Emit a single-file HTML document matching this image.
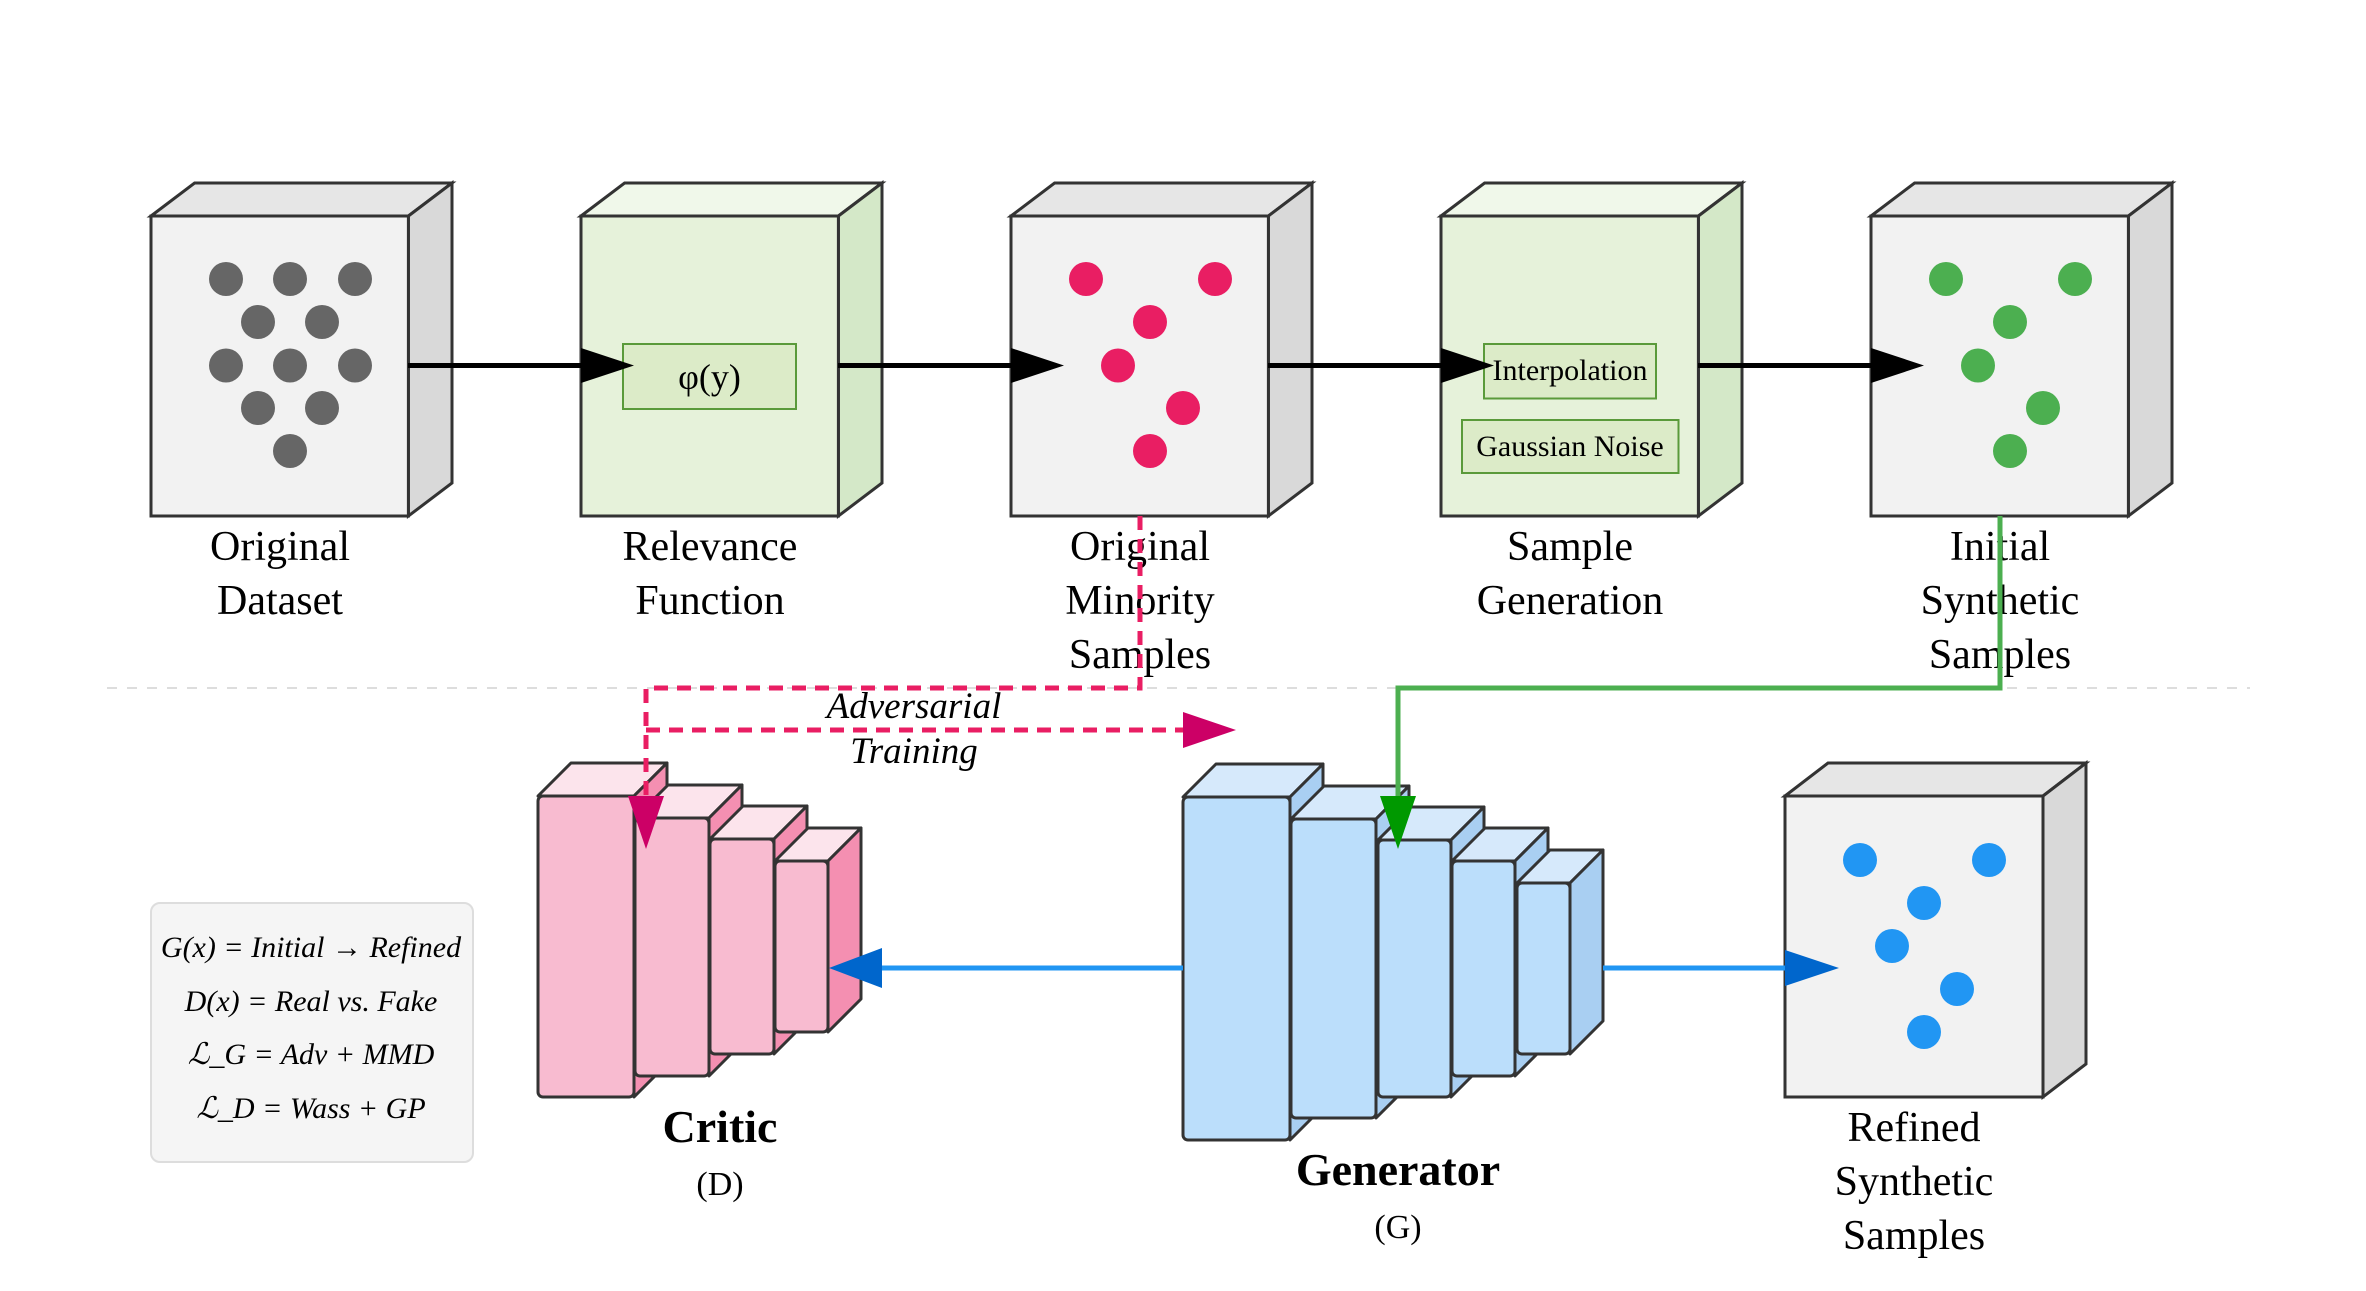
<!DOCTYPE html>
<html><head><meta charset="utf-8"><style>
html,body{margin:0;padding:0;background:#fff;}
svg{display:block;}
svg text{font-family:"Liberation Serif","Times New Roman",serif !important;fill:#000;}
</style></head><body>
<svg width="2366" height="1291" viewBox="0 0 2366 1291" xmlns="http://www.w3.org/2000/svg" font-family="'Liberation Serif', serif">
<line x1="107" y1="688" x2="2250" y2="688" stroke="#ddd" stroke-width="2" stroke-dasharray="10,10"/>

<g stroke="#333" stroke-width="3" stroke-linejoin="miter">
  <polygon points="151,216 194.6,183 452,183 408.4,216" fill="#e6e6e6"/>
  <polygon points="408.4,216 452,183 452,483 408.4,516" fill="#d9d9d9"/>
  <rect x="151" y="216" width="257.4" height="300" fill="#f2f2f2"/>
  <polygon points="581,216 624.6,183 882,183 838.4,216" fill="#f0f8ea"/>
  <polygon points="838.4,216 882,183 882,483 838.4,516" fill="#d4e8c8"/>
  <rect x="581" y="216" width="257.4" height="300" fill="#e6f2da"/>
  <polygon points="1011,216 1054.6,183 1312,183 1268.4,216" fill="#e6e6e6"/>
  <polygon points="1268.4,216 1312,183 1312,483 1268.4,516" fill="#d9d9d9"/>
  <rect x="1011" y="216" width="257.4" height="300" fill="#f2f2f2"/>
  <polygon points="1441,216 1484.6,183 1742,183 1698.4,216" fill="#f0f8ea"/>
  <polygon points="1698.4,216 1742,183 1742,483 1698.4,516" fill="#d4e8c8"/>
  <rect x="1441" y="216" width="257.4" height="300" fill="#e6f2da"/>
  <polygon points="1871,216 1914.6,183 2172,183 2128.4,216" fill="#e6e6e6"/>
  <polygon points="2128.4,216 2172,183 2172,483 2128.4,516" fill="#d9d9d9"/>
  <rect x="1871" y="216" width="257.4" height="300" fill="#f2f2f2"/>
  <polygon points="1785,796 1828,763 2086,763 2043,796" fill="#e6e6e6"/>
  <polygon points="2043,796 2086,763 2086,1064 2043,1097" fill="#d9d9d9"/>
  <rect x="1785" y="796" width="258" height="301" fill="#f2f2f2"/>
</g>

<g fill="#666">
  <circle cx="226" cy="279" r="17"/><circle cx="290" cy="279" r="17"/><circle cx="355" cy="279" r="17"/>
  <circle cx="258" cy="322" r="17"/><circle cx="322" cy="322" r="17"/>
  <circle cx="226" cy="365.5" r="17"/><circle cx="290" cy="365.5" r="17"/><circle cx="355" cy="365.5" r="17"/>
  <circle cx="258" cy="408" r="17"/><circle cx="322" cy="408" r="17"/>
  <circle cx="290" cy="451" r="17"/>
</g>
<g fill="#e91e63">
  <circle cx="1086" cy="279" r="17"/><circle cx="1215" cy="279" r="17"/>
  <circle cx="1150" cy="322" r="17"/><circle cx="1118" cy="365.5" r="17"/>
  <circle cx="1183" cy="408" r="17"/><circle cx="1150" cy="451" r="17"/>
</g>
<g fill="#4caf50">
  <circle cx="1946" cy="279" r="17"/><circle cx="2075" cy="279" r="17"/>
  <circle cx="2010" cy="322" r="17"/><circle cx="1978" cy="365.5" r="17"/>
  <circle cx="2043" cy="408" r="17"/><circle cx="2010" cy="451" r="17"/>
</g>
<g fill="#2196f3">
  <circle cx="1860" cy="860" r="17"/><circle cx="1989" cy="860" r="17"/>
  <circle cx="1924" cy="903" r="17"/><circle cx="1892" cy="946" r="17"/>
  <circle cx="1957" cy="989" r="17"/><circle cx="1924" cy="1032" r="17"/>
</g>

<g fill="#dcebc8" stroke="#5a9a3a" stroke-width="2">
  <rect x="623" y="344" width="173" height="65"/>
  <rect x="1484" y="344" width="172" height="54.5"/>
  <rect x="1462" y="420" width="216.5" height="53"/>
</g>
<text x="709.5" y="389" font-family="Liberation Serif, serif" font-size="36" text-anchor="middle">φ(y)</text>
<text x="1570" y="380" font-family="Liberation Serif, serif" font-size="30" text-anchor="middle">Interpolation</text>
<text x="1570" y="456" font-family="Liberation Serif, serif" font-size="30" text-anchor="middle">Gaussian Noise</text>

<g font-size="42" text-anchor="middle" font-family="Liberation Serif, serif">
  <text x="280" y="560">Original</text><text x="280" y="614">Dataset</text>
  <text x="710" y="560">Relevance</text><text x="710" y="614">Function</text>
  <text x="1140" y="560">Original</text><text x="1140" y="614">Minority</text><text x="1140" y="668">Samples</text>
  <text x="1570" y="560">Sample</text><text x="1570" y="614">Generation</text>
  <text x="2000" y="560">Initial</text><text x="2000" y="614">Synthetic</text><text x="2000" y="668">Samples</text>
  <text x="1914" y="1141">Refined</text><text x="1914" y="1195">Synthetic</text><text x="1914" y="1249">Samples</text>
</g>

<g stroke="#000" stroke-width="5">
  <line x1="408" y1="365.5" x2="600" y2="365.5"/>
  <line x1="838" y1="365.5" x2="1030" y2="365.5"/>
  <line x1="1268" y1="365.5" x2="1460" y2="365.5"/>
  <line x1="1698" y1="365.5" x2="1890" y2="365.5"/>
</g>
<g fill="#000">
  <polygon points="581,348 634,365.5 581,383"/>
  <polygon points="1011,348 1064,365.5 1011,383"/>
  <polygon points="1441,348 1494,365.5 1441,383"/>
  <polygon points="1871,348 1924,365.5 1871,383"/>
</g>

<g stroke="#333" stroke-width="3" stroke-linejoin="round">
  <polygon points="538,796 571,763 667,763 634,796" fill="#fce4ec"/>
  <polygon points="634,796 667,763 667,1064 634,1097" fill="#f48fb1"/>
  <rect x="538" y="796" width="96" height="301" rx="5" fill="#f8bbd0"/>
  <polygon points="635,818 668,785 742,785 709,818" fill="#fce4ec"/>
  <polygon points="709,818 742,785 742,1043 709,1076" fill="#f48fb1"/>
  <rect x="635" y="818" width="74" height="258" rx="5" fill="#f8bbd0"/>
  <polygon points="710,839 743,806 807,806 774,839" fill="#fce4ec"/>
  <polygon points="774,839 807,806 807,1021 774,1054" fill="#f48fb1"/>
  <rect x="710" y="839" width="64" height="215" rx="5" fill="#f8bbd0"/>
  <polygon points="775,861 808,828 861,828 828,861" fill="#fce4ec"/>
  <polygon points="828,861 861,828 861,999 828,1032" fill="#f48fb1"/>
  <rect x="775" y="861" width="53" height="171" rx="5" fill="#f8bbd0"/>
</g>

<g stroke="#333" stroke-width="3" stroke-linejoin="round">
  <polygon points="1183,797 1216,764 1323,764 1290,797" fill="#d6e9fb"/>
  <polygon points="1290,797 1323,764 1323,1107 1290,1140" fill="#a9cff2"/>
  <rect x="1183" y="797" width="107" height="343" rx="5" fill="#bbdefb"/>
  <polygon points="1291,819 1324,786 1409,786 1376,819" fill="#d6e9fb"/>
  <polygon points="1376,819 1409,786 1409,1085 1376,1118" fill="#a9cff2"/>
  <rect x="1291" y="819" width="85" height="299" rx="5" fill="#bbdefb"/>
  <polygon points="1378,840 1411,807 1484,807 1451,840" fill="#d6e9fb"/>
  <polygon points="1451,840 1484,807 1484,1064 1451,1097" fill="#a9cff2"/>
  <rect x="1378" y="840" width="73" height="257" rx="5" fill="#bbdefb"/>
  <polygon points="1452,861 1485,828 1548,828 1515,861" fill="#d6e9fb"/>
  <polygon points="1515,861 1548,828 1548,1043 1515,1076" fill="#a9cff2"/>
  <rect x="1452" y="861" width="63" height="215" rx="5" fill="#bbdefb"/>
  <polygon points="1517,883 1550,850 1603,850 1570,883" fill="#d6e9fb"/>
  <polygon points="1570,883 1603,850 1603,1021 1570,1054" fill="#a9cff2"/>
  <rect x="1517" y="883" width="53" height="171" rx="5" fill="#bbdefb"/>
</g>

<line x1="1183" y1="968" x2="870" y2="968" stroke="#2196f3" stroke-width="5"/>
<polygon points="882,948 829,968 882,988" fill="#0066cc"/>
<line x1="1603" y1="968" x2="1800" y2="968" stroke="#2196f3" stroke-width="5"/>
<polygon points="1785,950 1839,968 1785,986" fill="#0066cc"/>

<g fill="none" stroke="#e91e63" stroke-width="5" stroke-dasharray="14,9">
  <polyline points="1140,516 1140,688 646,688 646,800"/>
  <line x1="646" y1="730" x2="1190" y2="730"/>
</g>
<polygon points="628,796 664,796 646,849" fill="#cc0066"/>
<polygon points="1183,712 1236,730 1183,748" fill="#cc0066"/>
<text x="914" y="718" font-family="Liberation Serif, serif" font-size="37" font-style="italic" text-anchor="middle">Adversarial</text>
<text x="914" y="763" font-family="Liberation Serif, serif" font-size="37" font-style="italic" text-anchor="middle">Training</text>

<polyline points="2000,516 2000,688 1398,688 1398,800" fill="none" stroke="#4caf50" stroke-width="5"/>
<polygon points="1380,796 1416,796 1398,849" fill="#009900"/>

<text x="720" y="1142" font-family="Liberation Serif, serif" font-size="46" font-weight="bold" text-anchor="middle">Critic</text>
<text x="720" y="1195" font-family="Liberation Serif, serif" font-size="34" text-anchor="middle">(D)</text>
<text x="1398" y="1185" font-family="Liberation Serif, serif" font-size="46" font-weight="bold" text-anchor="middle">Generator</text>
<text x="1398" y="1238" font-family="Liberation Serif, serif" font-size="34" text-anchor="middle">(G)</text>

<rect x="151" y="903" width="322" height="259" rx="9" fill="#f5f5f5" stroke="#ddd" stroke-width="2"/>
<g font-size="30" font-style="italic" text-anchor="middle" font-family="Liberation Serif, serif">
  <text x="311" y="957">G(x) = Initial → Refined</text>
  <text x="311" y="1011">D(x) = Real vs. Fake</text>
  <text x="311" y="1064">ℒ_G = Adv + MMD</text>
  <text x="311" y="1118">ℒ_D = Wass + GP</text>
</g>
</svg>
</body></html>
